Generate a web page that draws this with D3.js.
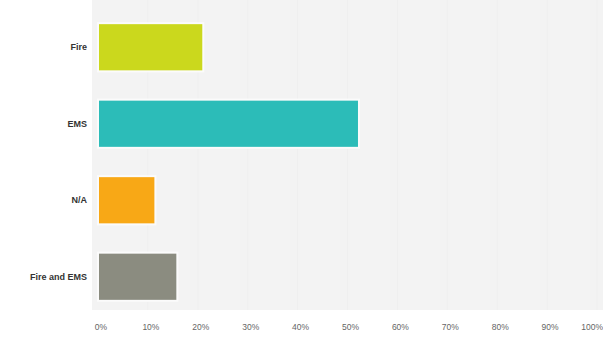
<!DOCTYPE html>
<html>
    <head>
        <title></title>
        <style>
         body { margin: 0; background: #fff; }
         .cat text { font-family: "Liberation Sans", Arial, sans-serif; font-size: 9px; font-weight: bold; fill: #333; }
         .ticks text { font-family: "Liberation Sans", Arial, sans-serif; font-size: 8.5px; fill: #666; }
        </style>
    </head>
    <body>
        <svg width="603" height="341"></svg>

        <script src="https://cdn.jsdelivr.net/npm/d3@7"></script>
        <script>

         // answer choices and share of responses (%)
         var categories = ['Fire', 'EMS', 'N/A', 'Fire and EMS'];
         var values = [21.1, 52.3, 11.5, 15.9];
         var colors = ['#cbd81d', '#2cbcb8', '#f8a816', '#8b8c80'];
         var tickValues = [0, 10, 20, 30, 40, 50, 60, 70, 80, 90, 100];

         var svg = d3.select('svg');

         var x = d3.scaleLinear().domain([0, 100]).range([98, 597]);
         var y = d3.scaleBand()
                   .domain(categories)
                   .range([9, 315])
                   .paddingInner(0.37)
                   .paddingOuter(0.185);

         // plot background
         svg.append('rect')
            .attr('x', 92).attr('y', 0)
            .attr('width', 603 - 92).attr('height', 310)
            .attr('fill', '#f3f3f3');

         // faint gridlines
         svg.append('g')
            .selectAll('line')
            .data(tickValues.slice(1))
            .enter()
            .append('line')
            .attr('x1', function(d) { return x(d); })
            .attr('x2', function(d) { return x(d); })
            .attr('y1', 0).attr('y2', 310)
            .attr('stroke', '#efefef');

         // bars
         svg.append('g')
            .selectAll('rect')
            .data(values)
            .enter()
            .append('rect')
            .attr('x', x(0))
            .attr('y', function(d, i) { return y(categories[i]); })
            .attr('width', function(d) { return x(d) - x(0); })
            .attr('height', y.bandwidth())
            .attr('fill', function(d, i) { return colors[i]; })
            .attr('stroke', '#fbfbfb')
            .attr('stroke-width', 2);

         // category labels
         svg.append('g')
            .attr('class', 'cat')
            .selectAll('text')
            .data(categories)
            .enter()
            .append('text')
            .attr('x', 87)
            .attr('y', function(d) { return y(d) + y.bandwidth() / 2; })
            .attr('dy', '0.35em')
            .attr('text-anchor', 'end')
            .text(function(d) { return d; });

         // percent axis
         svg.append('g')
            .attr('class', 'ticks')
            .selectAll('text')
            .data(tickValues)
            .enter()
            .append('text')
            .attr('x', function(d) { return d === 100 ? 603 : x(d) + 3; })
            .attr('y', 330)
            .attr('text-anchor', function(d) { return d === 100 ? 'end' : 'middle'; })
            .text(function(d) { return d + '%'; });
        </script>
    </body>
</html>
